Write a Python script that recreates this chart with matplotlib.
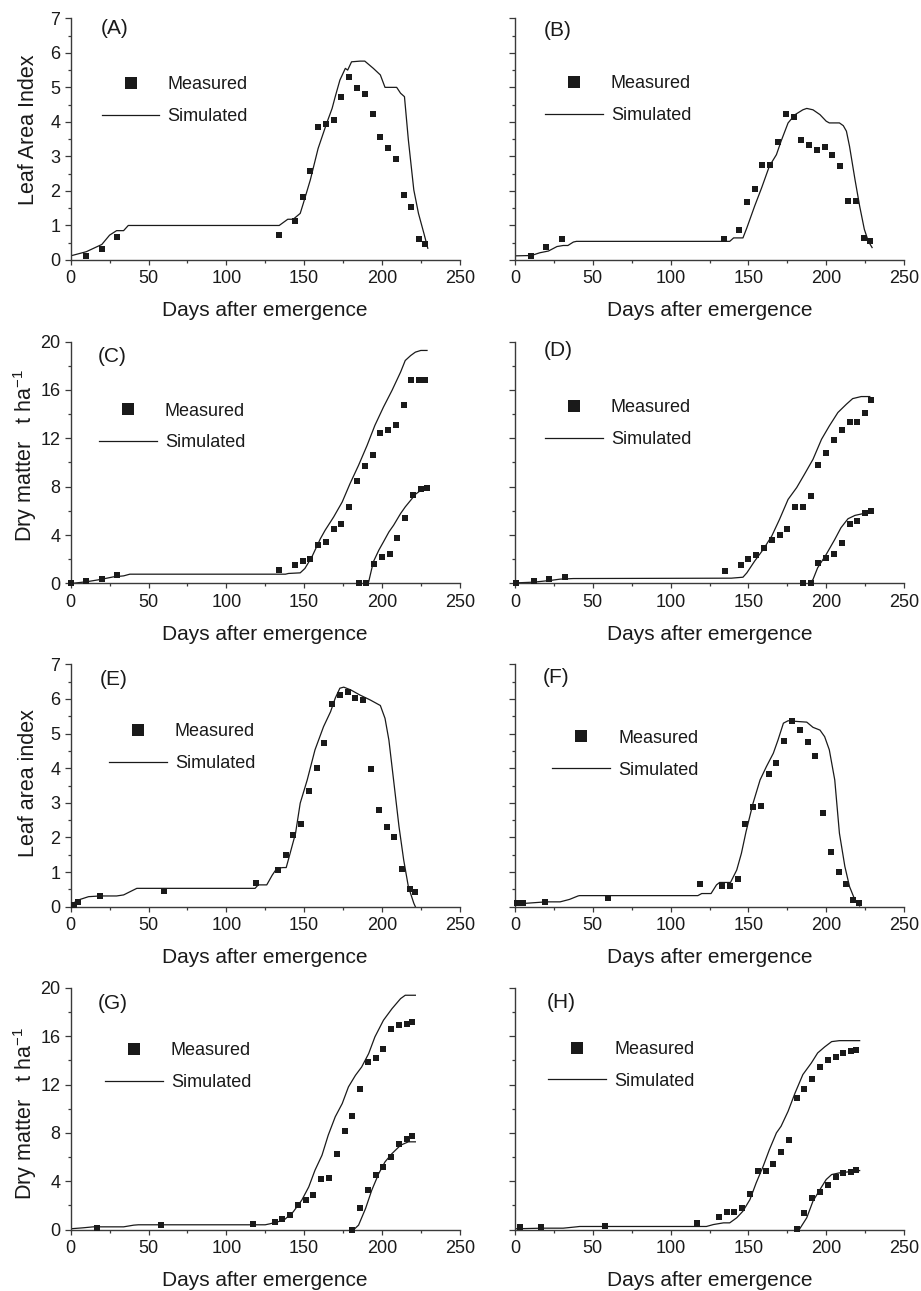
#!/usr/bin/env python3
# -*- coding: utf-8 -*-

"""
Measured versus simulated leaf area index and dry matter for four crops,
eight panels (A)-(H) laid out in a 4 x 2 grid.
"""

import numpy as np
from matplotlib import pyplot as plt
from matplotlib.lines import Line2D
from matplotlib.ticker import MultipleLocator

# ---------------------------------------------------------------------------
# Panel (A) leaf area index
A_MEAS_DAY = [10, 20, 30, 134, 144, 149, 154, 159, 164, 169, 174, 179, 184,
              189, 194, 199, 204, 209, 214, 219, 224, 228]
A_MEAS_VAL = [0.12, 0.33, 0.67, 0.72, 1.12, 1.82, 2.58, 3.86, 3.93, 4.05, 4.71,
              5.30, 4.98, 4.81, 4.23, 3.57, 3.24, 2.93, 1.88, 1.53, 0.60, 0.47]
A_SIM_DAY = [0, 10, 20, 25, 29.5, 34, 37, 134, 139.5, 143, 147.5, 149.5, 154,
             159, 164.5, 168, 170, 173, 176.5, 178, 180.5, 186, 189, 194.5,
             199, 202, 209.5, 212, 214.5, 217, 220.5, 223.5, 227, 229.5]
A_SIM_VAL = [0.12, 0.24, 0.45, 0.72, 0.85, 0.85, 1.0, 1.0, 1.18, 1.18, 1.35,
             1.64, 2.32, 3.23, 3.96, 4.39, 4.73, 5.21, 5.55, 5.50, 5.74, 5.76,
             5.76, 5.55, 5.36, 5.0, 5.0, 4.83, 4.73, 3.48, 2.03, 1.35, 0.77,
             0.34]

# Panel (B) leaf area index
B_MEAS_DAY = [10, 20, 30, 134, 144, 149, 154, 159, 164, 169, 174, 179, 184,
              189, 194, 199, 204, 209, 214, 219, 224, 228]
B_MEAS_VAL = [0.13, 0.39, 0.60, 0.62, 0.86, 1.69, 2.06, 2.75, 2.75, 3.43, 4.24,
              4.14, 3.47, 3.32, 3.20, 3.27, 3.05, 2.73, 1.72, 1.72, 0.63, 0.56]
B_SIM_DAY = [0, 10.5, 16, 21.5, 27, 31, 34, 37.5, 39.5, 138, 140.5, 146.5,
             149, 154, 158.5, 163.5, 168, 171, 175.5, 180, 185, 187.5, 191.5,
             196, 200, 202, 208.5, 211, 213, 215, 218.5, 221.5, 224.5, 227,
             229.5]
B_SIM_VAL = [0.12, 0.13, 0.21, 0.26, 0.39, 0.42, 0.42, 0.52, 0.54, 0.54, 0.64,
             0.64, 0.93, 1.56, 2.09, 2.72, 3.05, 3.44, 3.97, 4.21, 4.35, 4.39,
             4.35, 4.21, 4.02, 3.97, 3.97, 3.89, 3.73, 3.29, 2.33, 1.56, 0.89,
             0.55, 0.36]

# Panel (C) dry matter: total (first) and grain (second)
C_MEAS_DAY = [0, 10, 20, 30, 134, 144, 149, 154, 159, 164, 169, 174, 179, 184,
              189, 194, 199, 204, 209, 214, 219, 224, 228]
C_MEAS_VAL = [0.02, 0.17, 0.41, 0.69, 1.10, 1.51, 1.82, 2.04, 3.16, 3.44, 4.54,
              4.90, 6.33, 8.47, 9.74, 10.62, 12.41, 12.65, 13.12, 14.77, 16.84,
              16.84, 16.84]
C_MEAS2_DAY = [185, 190, 195, 200, 205, 210, 215, 220, 225, 229]
C_MEAS2_VAL = [0.0, 0.0, 1.65, 2.15, 2.45, 3.80, 5.45, 7.29, 7.84, 7.90]
C_SIM_DAY = [0, 10, 19, 27.5, 34, 38, 138, 140, 147.5, 150.5, 155, 160.5,
             163.5, 169, 174.5, 179.5, 185, 190.5, 195.5, 201, 206.5, 212,
             215, 218.5, 221.5, 225, 229]
C_SIM_VAL = [0.0, 0.14, 0.33, 0.55, 0.63, 0.77, 0.77, 0.83, 0.88, 1.24, 2.20,
             3.71, 4.40, 5.50, 6.74, 8.25, 9.77, 11.42, 13.07, 14.58, 15.96,
             17.47, 18.43, 18.84, 19.12, 19.26, 19.26]
C_SIM2_DAY = [188, 191.5, 194.5, 198, 201, 204.5, 207.5, 212, 215, 218.5,
              221.5, 224.5, 229]
C_SIM2_VAL = [0.0, 0.14, 1.79, 2.75, 3.44, 4.26, 4.81, 5.78, 6.33, 6.88, 7.37,
              7.65, 7.84]

# Panel (D) dry matter
D_MEAS_DAY = [0.5, 12, 22, 32, 135, 145, 150, 155, 160, 165, 170, 175, 180,
              185, 190, 195, 200, 205, 210, 215, 220, 225, 229]
D_MEAS_VAL = [0.08, 0.17, 0.39, 0.50, 1.02, 1.55, 2.04, 2.37, 2.95, 3.61, 4.03,
              4.52, 6.29, 6.29, 7.23, 9.77, 10.82, 11.86, 12.66, 13.35, 13.35,
              14.12, 15.15]
D_MEAS2_DAY = [185, 190, 195, 200, 205, 210, 215, 220, 225, 229]
D_MEAS2_VAL = [0.05, 0.05, 1.66, 2.07, 2.40, 3.37, 4.88, 5.16, 5.79, 5.96]
D_SIM_DAY = [0, 12, 22.5, 29, 37.5, 139, 146.5, 149, 154, 159.5, 165, 170,
             175.5, 181, 186, 191.5, 197, 202, 207.5, 213, 217, 222.5, 228]
D_SIM_VAL = [0.05, 0.11, 0.25, 0.36, 0.41, 0.44, 0.52, 0.88, 1.85, 2.81, 3.92,
             5.30, 6.95, 7.92, 9.02, 10.26, 11.92, 13.02, 14.13, 14.82, 15.28,
             15.45, 15.45]
D_SIM2_DAY = [189.5, 191.5, 194.5, 200, 205.5, 209.5, 214, 218.5, 223.5, 228]
D_SIM2_VAL = [0.05, 0.33, 1.30, 2.40, 3.64, 4.61, 5.35, 5.63, 5.77, 5.90]

# Panel (E) leaf area index
E_MEAS_DAY = [2, 5, 19, 60, 119, 133, 138.5, 143, 148, 153, 158, 163, 168,
              173, 178, 183, 188, 193, 198, 203, 208, 213, 218, 221]
E_MEAS_VAL = [0.05, 0.14, 0.31, 0.46, 0.67, 1.06, 1.48, 2.08, 2.39, 3.35, 4.00,
              4.72, 5.86, 6.11, 6.19, 6.04, 5.96, 3.97, 2.79, 2.29, 2.00, 1.10,
              0.51, 0.43]
E_SIM_DAY = [0, 3, 6, 11.5, 19, 29.5, 34, 38, 42.5, 118.5, 120.5, 126, 129.5,
             132.5, 136.5, 138.5, 141, 144.5, 147.5, 152, 157, 162.5, 167, 170,
             173, 175.5, 180, 186, 192.5, 199, 202, 204.5, 207.5, 211, 214,
             217, 220.5, 221.5]
E_SIM_VAL = [0.05, 0.14, 0.21, 0.29, 0.31, 0.31, 0.34, 0.43, 0.53, 0.53, 0.63,
             0.63, 0.91, 1.11, 1.13, 1.13, 1.54, 2.12, 2.99, 3.66, 4.53, 5.20,
             5.63, 6.02, 6.31, 6.34, 6.26, 6.11, 5.97, 5.81, 5.44, 4.81, 3.66,
             2.31, 1.35, 0.58, 0.10, 0.0]

# Panel (F) leaf area index
F_MEAS_DAY = [1.5, 5, 19, 60, 119, 133, 138, 143, 148, 153, 158, 163, 168,
              173, 178, 183, 188, 193, 198, 203, 208, 213, 217.5, 221]
F_MEAS_VAL = [0.11, 0.11, 0.14, 0.24, 0.65, 0.60, 0.61, 0.81, 2.40, 2.87, 2.90,
              3.83, 4.15, 4.78, 5.37, 5.10, 4.77, 4.35, 2.70, 1.59, 1.01, 0.65,
              0.19, 0.10]
F_SIM_DAY = [0, 7.5, 20, 29, 35, 40.5, 41.5, 117.5, 120, 126, 129.5, 131.5,
             138.5, 142.5, 145.5, 148.5, 153, 157.5, 161.5, 166, 169, 172.5,
             175.5, 181, 187.5, 191.5, 196, 199, 202, 205.5, 208.5, 212, 215,
             218.5, 221.5]
F_SIM_VAL = [0.07, 0.10, 0.14, 0.14, 0.21, 0.31, 0.32, 0.32, 0.38, 0.38, 0.63,
             0.70, 0.70, 1.06, 1.54, 2.17, 2.99, 3.66, 4.04, 4.43, 4.81, 5.30,
             5.37, 5.35, 5.33, 5.18, 5.10, 4.91, 4.53, 3.66, 2.12, 1.16, 0.58,
             0.19, 0.02]

# Panel (G) dry matter
G_MEAS_DAY = [17, 58, 117, 131, 136, 141, 146, 151, 156, 161, 166, 171, 176,
              181, 186, 191, 196, 201, 206, 211, 216, 219.5]
G_MEAS_VAL = [0.14, 0.41, 0.44, 0.61, 0.88, 1.21, 2.04, 2.48, 2.84, 4.17, 4.28,
              6.24, 8.17, 9.38, 11.67, 13.85, 14.18, 14.98, 16.58, 16.91, 17.05,
              17.19]
G_MEAS2_DAY = [181, 186, 191, 196, 201, 206, 211, 216, 219.5]
G_MEAS2_VAL = [0.0, 1.82, 3.26, 4.55, 5.19, 5.99, 7.12, 7.48, 7.75]
G_SIM_DAY = [0, 8, 14.5, 25, 34, 40.5, 43.5, 125, 128, 137, 143, 148.5, 153,
             157, 161.5, 165.5, 170, 174.5, 178.5, 183, 187, 191.5, 195.5, 201,
             206.5, 212, 215, 221.5]
G_SIM_VAL = [0.06, 0.14, 0.22, 0.22, 0.22, 0.36, 0.39, 0.39, 0.47, 0.77, 1.46,
             2.43, 3.53, 4.91, 6.15, 7.81, 9.33, 10.43, 11.81, 12.77, 13.46,
             14.57, 15.95, 17.33, 18.29, 19.12, 19.40, 19.40]
G_SIM2_DAY = [182, 185, 189.5, 193.5, 198, 202, 206.5, 212, 217, 221.5]
G_SIM2_VAL = [0.0, 0.36, 1.74, 3.26, 4.64, 5.60, 6.29, 6.98, 7.26, 7.26]

# Panel (H) dry matter
H_MEAS_DAY = [3, 17, 58, 117, 131, 136, 141, 146, 151, 156, 161, 166, 171, 176,
              181, 186, 191, 196, 201, 206, 211, 216, 219]
H_MEAS_VAL = [0.17, 0.19, 0.33, 0.50, 1.05, 1.49, 1.49, 1.77, 2.98, 4.83, 4.88,
              5.44, 6.40, 7.45, 10.87, 11.62, 12.50, 13.46, 14.04, 14.29, 14.65,
              14.76, 14.90]
H_MEAS2_DAY = [181, 186, 191, 196, 201, 206, 211, 216, 219]
H_MEAS2_VAL = [0.06, 1.38, 2.59, 3.09, 3.72, 4.36, 4.64, 4.75, 4.91]
H_SIM_DAY = [0, 18, 31, 39.5, 41.5, 123, 127.5, 134, 138, 142.5, 146.5, 151,
             155, 159.5, 163.5, 168, 171, 175.5, 180, 185, 190.5, 194.5, 199,
             203.5, 208.5, 221.5]
H_SIM_VAL = [0.06, 0.11, 0.11, 0.22, 0.25, 0.25, 0.41, 0.55, 0.55, 0.97, 1.52,
             2.48, 3.86, 5.24, 6.62, 8.00, 8.55, 9.79, 11.31, 12.83, 13.80,
             14.62, 15.12, 15.56, 15.64, 15.64]
H_SIM2_DAY = [183, 187.5, 191.5, 196, 200, 203.5, 208.5, 221.5]
H_SIM2_VAL = [0.06, 0.97, 2.35, 3.31, 4.14, 4.55, 4.69, 4.88]

PANEL_LETTERS = ["(A)", "(B)", "(C)", "(D)", "(E)", "(F)", "(G)", "(H)"]
YLABELS = ["Leaf Area Index", None, r"Dry matter   t ha$^{-1}$", None,
           "Leaf area index", None, r"Dry matter   t ha$^{-1}$", None]
XLABEL = "Days after emergence"
LEGEND_LABELS = ["Measured", "Simulated"]

# ---------------------------------------------------------------------------

W, H = 921, 1291
COL_LEFT = [70.7, 515.0]
COL_WIDTH = 389.0
ROW_TOP = [18.3, 341.5, 664.3, 988.0]
ROW_BOTTOM = [260.0, 583.5, 906.7, 1229.5]

INK = "#1a1a1a"
AXCOL = "#3a3a3a"


def draw_panel(ax, idx, meas, sim, kind, label_xy, legend_xy, ylab_y):
    """Draw one panel: measured squares, simulated line, legend and labels."""

    for x, y in sim:
        ax.plot(x, y, "-", color=INK, lw=0.9, zorder=2)
    for x, y in meas:
        ax.plot(x, y, "s", color=INK, ms=4.6, mew=0, zorder=3, clip_on=False)

    ax.set_xlim(0, 250)
    ax.xaxis.set_major_locator(MultipleLocator(50))
    ax.xaxis.set_minor_locator(MultipleLocator(25))
    if kind == "lai":
        ax.set_ylim(0, 7)
        ax.yaxis.set_major_locator(MultipleLocator(1))
        ax.yaxis.set_minor_locator(MultipleLocator(0.5))
    else:
        ax.set_ylim(0, 20)
        ax.yaxis.set_major_locator(MultipleLocator(4))
        ax.yaxis.set_minor_locator(MultipleLocator(2))

    for s in ["top", "right"]:
        ax.spines[s].set_visible(False)
    for s in ["left", "bottom"]:
        ax.spines[s].set_color(AXCOL)
        ax.spines[s].set_linewidth(1.0)

    ax.tick_params(which="both", direction="out", color=AXCOL, width=0.9,
                   labelsize=13, labelcolor=INK)
    ax.tick_params(which="major", length=4.5, pad=3)
    ax.tick_params(which="minor", length=2.5)
    ax.tick_params(axis="x", which="major", length=3.5, pad=4)
    ax.tick_params(axis="x", which="minor", length=2.2)

    if idx % 2 == 1:
        ax.tick_params(axis="y", labelleft=False)
    else:
        ax.set_ylabel(YLABELS[idx], fontsize=15.5, color=INK)
        ax.yaxis.set_label_coords(-0.082, ylab_y)

    ax.set_xlabel(XLABEL, fontsize=15, color=INK)
    ax.xaxis.set_label_coords(0.5, -0.17)

    ax.text(label_xy[0], label_xy[1], PANEL_LETTERS[idx], transform=ax.transAxes,
            fontsize=15, color=INK, ha="left", va="center")

    handles = [
        Line2D([], [], ls="none", marker="s", ms=8.2, mew=0, color=INK),
        Line2D([], [], ls="-", lw=0.9, color=INK),
    ]
    ax.legend(handles, LEGEND_LABELS, loc="upper left",
              bbox_to_anchor=legend_xy, frameon=False, fontsize=13,
              handlelength=3.2, handletextpad=0.45, labelspacing=0.82,
              borderpad=0, borderaxespad=0, labelcolor=INK)


def main():
    plt.rcParams["font.family"] = ["Liberation Sans", "DejaVu Sans"]
    plt.rcParams["mathtext.default"] = "regular"

    fig = plt.figure(figsize=(W / 100, H / 100), dpi=100)

    panels = [
        ([(A_MEAS_DAY, A_MEAS_VAL)], [(A_SIM_DAY, A_SIM_VAL)], "lai"),
        ([(B_MEAS_DAY, B_MEAS_VAL)], [(B_SIM_DAY, B_SIM_VAL)], "lai"),
        ([(C_MEAS_DAY, C_MEAS_VAL), (C_MEAS2_DAY, C_MEAS2_VAL)],
         [(C_SIM_DAY, C_SIM_VAL), (C_SIM2_DAY, C_SIM2_VAL)], "dm"),
        ([(D_MEAS_DAY, D_MEAS_VAL), (D_MEAS2_DAY, D_MEAS2_VAL)],
         [(D_SIM_DAY, D_SIM_VAL), (D_SIM2_DAY, D_SIM2_VAL)], "dm"),
        ([(E_MEAS_DAY, E_MEAS_VAL)], [(E_SIM_DAY, E_SIM_VAL)], "lai"),
        ([(F_MEAS_DAY, F_MEAS_VAL)], [(F_SIM_DAY, F_SIM_VAL)], "lai"),
        ([(G_MEAS_DAY, G_MEAS_VAL), (G_MEAS2_DAY, G_MEAS2_VAL)],
         [(G_SIM_DAY, G_SIM_VAL), (G_SIM2_DAY, G_SIM2_VAL)], "dm"),
        ([(H_MEAS_DAY, H_MEAS_VAL), (H_MEAS2_DAY, H_MEAS2_VAL)],
         [(H_SIM_DAY, H_SIM_VAL), (H_SIM2_DAY, H_SIM2_VAL)], "dm"),
    ]

    # offsets in pixels from the axes top-left corner: panel letter (x, y)
    # and legend line start (x, y of the first row centre)
    letter_px = [(30, 10), (29, 12), (27.5, 15.5), (29, 9.5),
                 (29, 15.5), (28, 13), (27.5, 15.5), (32, 15)]
    legend_px = [(31, 64), (30, 63), (28.3, 67), (30, 64),
                 (38.3, 65), (37.3, 71.4), (34.3, 60.3), (33.3, 59)]
    ylab_y = [0.54, None, 0.53, None, 0.51, None, 0.48, None]

    for i, (meas, sim, kind) in enumerate(panels):
        row, col = i // 2, i % 2
        left = COL_LEFT[col] / W
        bottom = 1 - ROW_BOTTOM[row] / H
        height = (ROW_BOTTOM[row] - ROW_TOP[row]) / H
        ax = fig.add_axes([left, bottom, COL_WIDTH / W, height])
        hpx = ROW_BOTTOM[row] - ROW_TOP[row]
        lx, ly = letter_px[i]
        gx, gy = legend_px[i]
        draw_panel(ax, i, meas, sim, kind,
                   (lx / COL_WIDTH, 1 - ly / hpx),
                   (gx / COL_WIDTH, 1 - (gy - 6) / hpx),
                   ylab_y[i] if ylab_y[i] is not None else 0.5)

    fig.savefig("out.png", dpi=100)
    plt.close(fig)


if __name__ == "__main__":
    main()
